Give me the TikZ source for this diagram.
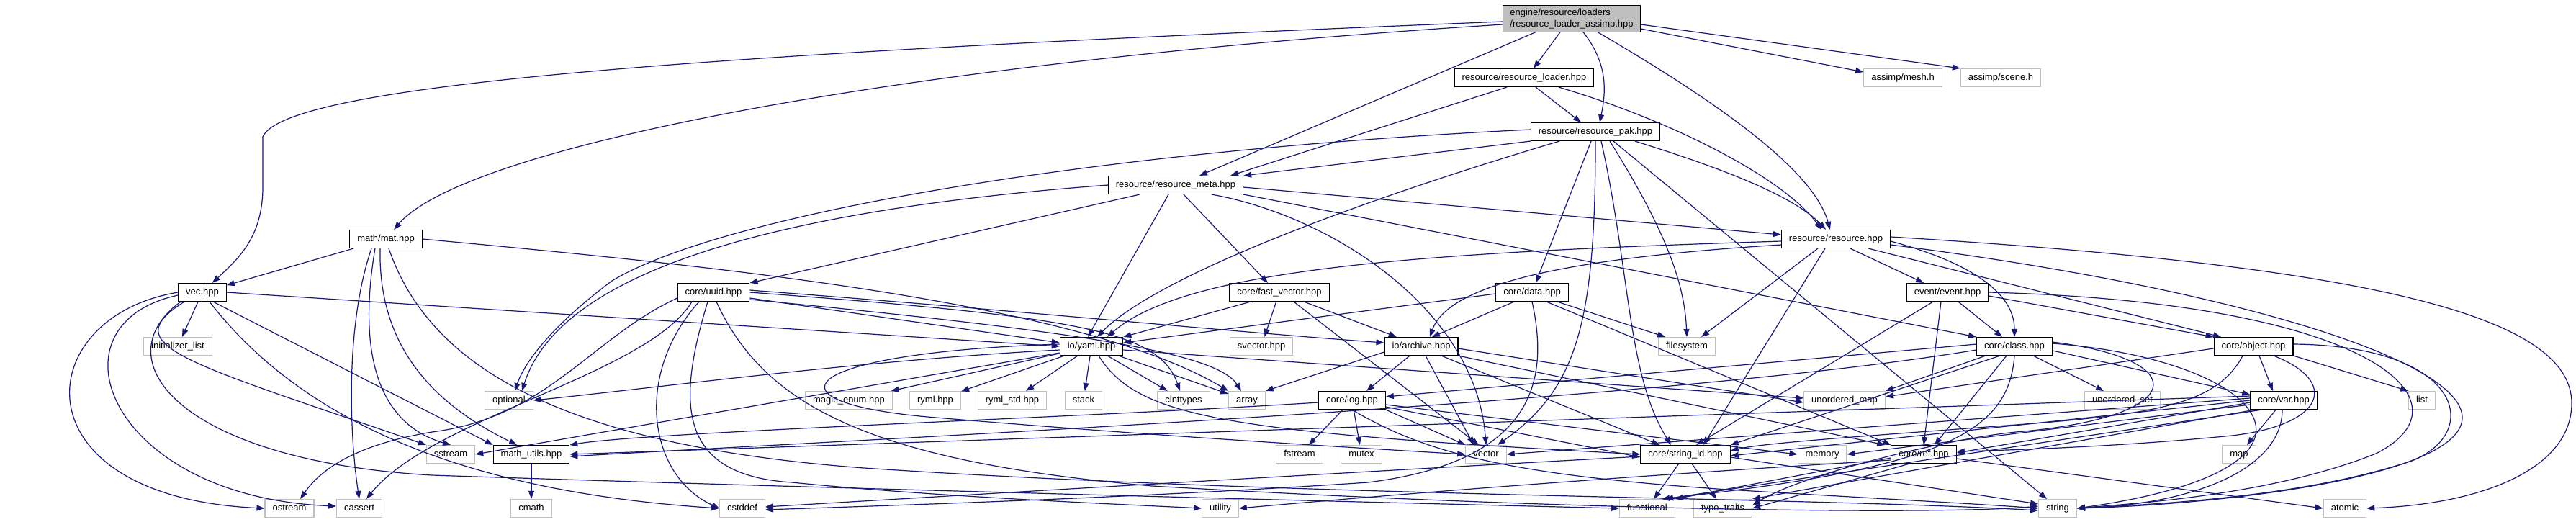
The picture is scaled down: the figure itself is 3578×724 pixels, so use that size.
\documentclass[tikz,border=0pt]{standalone}
\usepackage{fontspec}
\setmainfont{Liberation Sans}
\usetikzlibrary{arrows.meta}
\definecolor{edgec}{HTML}{191970}
\definecolor{extc}{HTML}{BFBFBF}
\tikzset{
  nb/.style={draw=black, line width=1.1pt, fill=white, minimum height=25pt, inner xsep=10.5pt, inner ysep=0pt,
    font=\fontsize{13}{15}\selectfont, text height=9.5pt, text depth=2.8pt},
  ext/.style={nb, draw=extc},
  mainn/.style={draw=black, line width=1.1pt, fill=extc, align=left, inner xsep=10pt, inner ysep=4pt,
    font=\fontsize{13}{16}\selectfont},
  e/.style={draw=edgec, line width=1.2pt, -{Triangle[length=11pt,width=8pt]}},
}
\begin{document}
\begin{tikzpicture}[x=1pt,y=-1pt]
\useasboundingbox (0,0) rectangle (3578,724);
% nodes
\node[mainn] (main) at (2183,26) {engine/resource/loaders\\/resource\_loader\_assimp.hpp};
\node[nb] (loader) at (2117,108) {resource/resource\_loader.hpp};
\node[nb] (pak) at (2216,183) {resource/resource\_pak.hpp};
\node[ext] (mesh) at (2643,108) {assimp/mesh.h};
\node[ext] (scene) at (2779,108) {assimp/scene.h};
\node[nb] (resource) at (2550,332) {resource/resource.hpp};
\node[nb] (meta) at (1633,257) {resource/resource\_meta.hpp};
\node[nb] (mat) at (536,332) {math/mat.hpp};
\node[nb] (vec) at (281,406) {vec.hpp};
\node[ext] (initlist) at (247,481) {initializer\_list};
\node[ext] (optional) at (707,556) {optional};
\node[ext] (sstream) at (626,631) {sstream};
\node[nb] (mathutils) at (738,631) {math\_utils.hpp};
\node[ext] (ostream) at (402,706) {ostream};
\node[ext] (cassert) at (499,706) {cassert};
\node[ext] (cmath) at (738,706) {cmath};
\node[nb] (uuid) at (991,406) {core/uuid.hpp};
\node[nb] (yaml) at (1516,481) {io/yaml.hpp};
\node[ext] (magic) at (1179,556) {magic\_enum.hpp};
\node[ext] (ryml) at (1299,556) {ryml.hpp};
\node[ext] (rymlstd) at (1406,556) {ryml\_std.hpp};
\node[ext] (stack) at (1505,556) {stack};
\node[ext] (cinttypes) at (1644,556) {cinttypes};
\node[ext] (array) at (1732,556) {array};
\node[nb] (fastvec) at (1777,406) {core/fast\_vector.hpp};
\node[ext] (svector) at (1752,481) {svector.hpp};
\node[ext] (cstddef) at (1031,706) {cstddef};
\node[ext] (utility) at (1695,706) {utility};
\node[ext] (fstream) at (1805,631) {fstream};
\node[nb] (data) at (2128,406) {core/data.hpp};
\node[nb] (archive) at (1974,481) {io/archive.hpp};
\node[ext] (filesystem) at (2343,481) {filesystem};
\node[nb] (log) at (1878,556) {core/log.hpp};
\node[ext] (umap) at (2562,556) {unordered\_map};
\node[ext] (mutex) at (1891,631) {mutex};
\node[ext] (vector) at (2064,631) {vector};
\node[nb] (stringid) at (2341,631) {core/string\_id.hpp};
\node[ext] (memory) at (2531,631) {memory};
\node[nb] (ref) at (2672,631) {core/ref.hpp};
\node[ext] (functional) at (2288,706) {functional};
\node[ext] (typetraits) at (2393,706) {type\_traits};
\node[nb] (event) at (2705,406) {event/event.hpp};
\node[nb] (class) at (2798,481) {core/class.hpp};
\node[nb] (object) at (3130,481) {core/object.hpp};
\node[ext] (uset) at (2948,556) {unordered\_set};
\node[nb] (var) at (3172,556) {core/var.hpp};
\node[ext] (list) at (3364,556) {list};
\node[ext] (map) at (3110,631) {map};
\node[ext] (string) at (2858,706) {string};
\node[ext] (atomic) at (3257,706) {atomic};

% main
\draw[e] ([yshift=-4]main.west) .. controls (1100,70) and (400,110) .. (365,190) -- (365,260) .. controls (365,330) and (330,360) .. (vec);
\draw[e] ([yshift=-8]main.west) .. controls (1200,90) and (640,210) .. (mat);
\draw[e] ([xshift=-50]main.south) -- ([xshift=33]meta.north);
\draw[e] ([xshift=-16]main.south) -- ([xshift=13]loader.north);
\draw[e] ([xshift=16]main.south) .. controls (2235,90) and (2230,130) .. ([xshift=6]pak.north);
\draw[e] ([xshift=36]main.south) .. controls (2400,150) and (2520,240) .. ([xshift=-8]resource.north);
\draw[e] ([yshift=-14]main.east) -- ([yshift=8]mesh.west);
\draw[e] ([yshift=-8]main.east) -- (scene.north west);
% loader
\draw[e] ([xshift=-24]loader.south) -- ([xshift=76]meta.north);
\draw[e] ([xshift=16]loader.south) -- ([xshift=-20]pak.north);
\draw[e] ([xshift=48]loader.south) .. controls (2330,170) and (2480,250) .. ([xshift=-20]resource.north);
% pak
\draw[e] (pak.south west) -- (meta.north east);
\draw[e] ([xshift=55]pak.south) .. controls (2380,230) and (2490,270) .. ([xshift=-14]resource.north);
\draw[e] ([yshift=3]pak.west) .. controls (1500,210) and (1000,300) .. (850,390) .. controls (770,450) and (730,500) .. ([xshift=8]optional.north);
\draw[e] ([xshift=-50]pak.south) .. controls (1850,290) and (1600,390) .. ([xshift=8]yaml.north);
\draw[e] ([xshift=-6]pak.south) -- ([xshift=5]data.north);
\draw[e] (pak.south) .. controls (2216,450) and (2190,540) .. ([xshift=16]vector.north);
\draw[e] ([xshift=8]pak.south) .. controls (2265,380) and (2260,520) .. ([xshift=-20]stringid.north);
\draw[e] ([xshift=20]pak.south) .. controls (2320,330) and (2340,400) .. (filesystem.north);
\draw[e] ([xshift=25]pak.south) -- ([xshift=-15]string.north);
% meta
\draw[e] (meta.west) .. controls (1100,290) and (780,370) .. ([xshift=18]optional.north);
\draw[e] ([xshift=-50]meta.south) -- (uuid.north east);
\draw[e] ([xshift=-10]meta.south) -- ([xshift=-5]yaml.north);
\draw[e] ([xshift=11]meta.south) -- ([xshift=-16]fastvec.north);
\draw[e] ([yshift=-3]meta.east) -- ([yshift=6]resource.west);
\draw[e] (meta.south east) -- (class.north west);
\draw[e] ([xshift=50]meta.south) .. controls (1850,300) and (2050,430) .. (vector.north);
% vec
\draw[e] (vec) -- (initlist);
\draw[e] (vec.west) .. controls (40,440) and (20,690) .. (ostream.west);
\draw[e] ([yshift=-4]vec.west) .. controls (60,450) and (150,690) .. ([yshift=3]cassert.west);
\draw[e] ([xshift=-30]vec.south) .. controls (140,500) and (250,640) .. (600,660) .. controls (1200,680) and (2000,700) .. (functional.west);
\draw[e] ([xshift=-25]vec.south) .. controls (160,480) and (250,500) .. (sstream.north west);
\draw[e] ([xshift=10]vec.south) .. controls (400,560) and (600,680) .. (cstddef.west);
\draw[e] ([xshift=15]vec.south) -- (mathutils.north west);
\draw[e] (vec.east) -- (yaml.west);
% mat
\draw[e] (mat) -- (vec);
\draw[e] ([xshift=-20]mat.south) .. controls (480,450) and (485,600) .. (cassert.north);
\draw[e] ([xshift=-15]mat.south) .. controls (495,500) and (530,590) .. (sstream.north);
\draw[e] ([xshift=-8]mat.south) .. controls (525,480) and (600,560) .. ([xshift=-20]mathutils.north);
\draw[e] ([xshift=4]mat.south) .. controls (600,520) and (800,620) .. (1200,650) .. controls (1800,690) and (2500,690) .. ([yshift=-3]string.west);
\draw[e] (mat.east) .. controls (1000,370) and (1500,420) .. (array.north west);
% math_utils
\draw[e] (mathutils) -- (cmath);
% uuid
\draw[e] ([yshift=-8]uuid.east) -- ([yshift=5]yaml.west);
\draw[e] ([yshift=3]uuid.east) .. controls (1400,430) and (1700,460) .. ([yshift=5]archive.west);
\draw[e] (uuid.east) .. controls (1500,440) and (1610,460) .. ([xshift=-5]cinttypes.north);
\draw[e] ([yshift=-10]uuid.east) .. controls (1500,460) and (1690,490) .. ([xshift=-8]array.north);
\draw[e] ([xshift=-20]uuid.south) .. controls (880,520) and (900,660) .. (cstddef.west);
\draw[e] ([xshift=-8]uuid.south) .. controls (940,560) and (940,660) .. (1100,670) .. controls (1300,690) and (1550,700) .. (utility.west);
\draw[e] ([xshift=4]uuid.south) .. controls (1060,560) and (1200,640) .. (1600,675) .. controls (2200,710) and (2700,715) .. ([yshift=3]string.west);
\draw[e] ([yshift=-8]uuid.west) .. controls (820,470) and (760,580) .. (600,600) .. controls (480,620) and (440,660) .. ([xshift=15]ostream.north);
\draw[e] ([xshift=-30]uuid.south) .. controls (900,520) and (600,580) .. ([xshift=10]cassert.north);
% yaml
\draw[e] ([yshift=-5]yaml.west) .. controls (1200,500) and (900,540) .. (optional.east);
\draw[e] (yaml) -- (magic);
\draw[e] (yaml) -- (ryml);
\draw[e] (yaml) -- (rymlstd);
\draw[e] (yaml) -- (stack);
\draw[e] (yaml) -- (cinttypes);
\draw[e] (yaml) -- (array);
\draw[e] ([yshift=-5]yaml.east) -- ([yshift=3]umap.west);
\draw[e] ([yshift=-9]yaml.west) -- (sstream.east);
\draw[e] ([yshift=3]yaml.west) .. controls (1100,490) and (1050,560) .. (1300,580) .. controls (1600,605) and (1850,620) .. (vector.west);
\draw[e] ([xshift=10]yaml.south) .. controls (1580,580) and (1700,600) .. (stringid.west);
% fast vector
\draw[e] ([xshift=-40]fastvec.south) -- (yaml.north east);
\draw[e] (fastvec) -- (svector);
\draw[e] (fastvec) -- (archive);
\draw[e] ([xshift=20]fastvec.south) -- ([xshift=-10]vector.north);
% data
\draw[e] ([yshift=-2]data.west) -- ([yshift=5]yaml.east);
\draw[e] ([xshift=-25]data.south) -- ([xshift=15]archive.north);
\draw[e] (data.south) .. controls (2150,520) and (2140,640) .. (1900,670) .. controls (1600,690) and (1300,700) .. ([yshift=-2]cstddef.east);
\draw[e] ([xshift=20]data.south) -- (ref.north west);
\draw[e] ([xshift=35]data.south) -- ([xshift=-30]filesystem.north);
% archive
\draw[e] ([xshift=-16]archive.south) -- ([xshift=20]log.north);
\draw[e] ([xshift=6]archive.south) -- ([xshift=-17]vector.north);
\draw[e] ([xshift=28]archive.south) -- ([xshift=-36]stringid.north);
\draw[e] ([yshift=-3]archive.east) -- ([yshift=-3]umap.west);
\draw[e] (archive.south east) -- ([xshift=-8]ref.north west);
\draw[e] ([yshift=-8]archive.west) -- (array.north east);
% log
\draw[e] (log) -- (fstream);
\draw[e] (log) -- (mutex);
\draw[e] (log.south east) -- (vector.north west);
\draw[e] ([yshift=-6]log.east) -- (memory.west);
\draw[e] (log.south) .. controls (1980,630) and (2100,660) .. (2400,680) .. controls (2600,692) and (2750,700) .. (string.west);
\draw[e] ([yshift=-9]log.east) -- ([yshift=-4]stringid.west);
\draw[e] ([yshift=-3]log.west) .. controls (1500,580) and (900,600) .. (mathutils.north east);
% string_id
\draw[e] (stringid) -- (functional);
\draw[e] (stringid) -- (typetraits);
\draw[e] ([yshift=-4]stringid.east) -- ([yshift=6]string.west);
\draw[e] ([yshift=-3]stringid.west) .. controls (1800,660) and (1300,690) .. ([yshift=2]cstddef.east);
% ref
\draw[e] ([yshift=-5]ref.west) -- (functional.north east);
\draw[e] ([xshift=-20]ref.south) -- (typetraits.east);
\draw[e] ([yshift=-6]ref.east) -- (atomic.west);
\draw[e] ([yshift=-8]ref.west) .. controls (2200,665) and (1900,690) .. (utility.east);
% event
\draw[e] ([xshift=15]event.south) -- ([xshift=-17]class.north);
\draw[e] ([yshift=-5]event.east) -- (object.north west);
\draw[e] ([xshift=-20]event.south) -- ([xshift=15]stringid.north);
\draw[e] ([xshift=-9]event.south) -- (ref.north);
\draw[e] (event.east) .. controls (3300,420) and (3440,560) .. (3300,630) .. controls (3150,690) and (2950,700) .. (string.east);
% resource
\draw[e] ([yshift=-3]resource.west) .. controls (2000,350) and (1650,370) .. ([xshift=22]yaml.north);
\draw[e] ([yshift=-8]resource.west) .. controls (2150,360) and (2010,400) .. ([xshift=12]archive.north);
\draw[e] ([xshift=-25]resource.south) -- ([xshift=20]filesystem.north);
\draw[e] ([xshift=-15]resource.south) -- ([xshift=25]stringid.north);
\draw[e] ([xshift=20]resource.south) -- ([xshift=-33]event.north);
\draw[e] ([yshift=-3]resource.east) .. controls (2720,360) and (2798,400) .. (class.north);
\draw[e] ([xshift=45]resource.south) -- ([xshift=-45]object.north);
\draw[e] ([yshift=3]resource.east) .. controls (3300,370) and (3572,440) .. (3572,560) .. controls (3572,650) and (3450,700) .. (atomic.east);
\draw[e] ([yshift=-8]resource.east) .. controls (3100,400) and (3420,500) .. (3420,580) .. controls (3420,660) and (3100,700) .. (string.east);
% class
\draw[e] ([yshift=3]class.west) -- ([yshift=5]log.east);
\draw[e] ([xshift=-40]class.south) -- (umap.north east);
\draw[e] ([xshift=-20]class.south) -- (stringid.north east);
\draw[e] ([xshift=-11]class.south) -- ([xshift=15]ref.north);
\draw[e] (class.south) .. controls (2790,600) and (2700,650) .. ([xshift=20]functional.north);
\draw[e] (class) -- (uset);
\draw[e] ([yshift=-6]class.east) -- ([yshift=8]var.west);
\draw[e] ([yshift=4]class.east) .. controls (3150,500) and (3280,650) .. (string.east);
\draw[e] ([yshift=6]class.east) .. controls (3050,500) and (3040,580) .. (2800,600) .. controls (2700,610) and (2500,660) .. ([yshift=4]typetraits.east);
\draw[e] ([yshift=-5]class.west) .. controls (2300,560) and (1200,610) .. ([yshift=-3]mathutils.east);
% object
\draw[e] ([yshift=-3]object.west) -- ([yshift=5]umap.east);
\draw[e] ([xshift=8]object.south) -- ([xshift=-15]var.north);
\draw[e] (object.south east) -- (list.north west);
\draw[e] ([xshift=28]object.south) .. controls (3250,530) and (3230,590) .. (3100,605) .. controls (2950,620) and (2800,625) .. ([yshift=4]ref.east);
\draw[e] ([xshift=-15]object.south) .. controls (3080,560) and (3000,575) .. (2800,590) .. controls (2600,605) and (2450,615) .. ([yshift=5]stringid.east);
\draw[e] ([yshift=3]object.east) .. controls (3420,480) and (3450,600) .. (3350,640) .. controls (3200,690) and (3000,700) .. (string.east);
% var
\draw[e] (var) -- (map);
\draw[e] ([xshift=-2]var.south) .. controls (3170,650) and (3050,700) .. (string.east);
\draw[e] ([yshift=-3]var.west) -- ([yshift=2]ref.east);
\draw[e] ([yshift=-6]var.west) -- (memory.east);
\draw[e] (var.west) -- ([yshift=-2]stringid.east);
\draw[e] ([yshift=3]var.west) -- (vector.east);
\draw[e] ([yshift=6]var.west) -- (mathutils.east);
\draw[e] ([xshift=-30]var.south) -- ([xshift=25]functional.north);
\draw[e] ([xshift=-40]var.south) -- (typetraits.north east);
\end{tikzpicture}
\end{document}
